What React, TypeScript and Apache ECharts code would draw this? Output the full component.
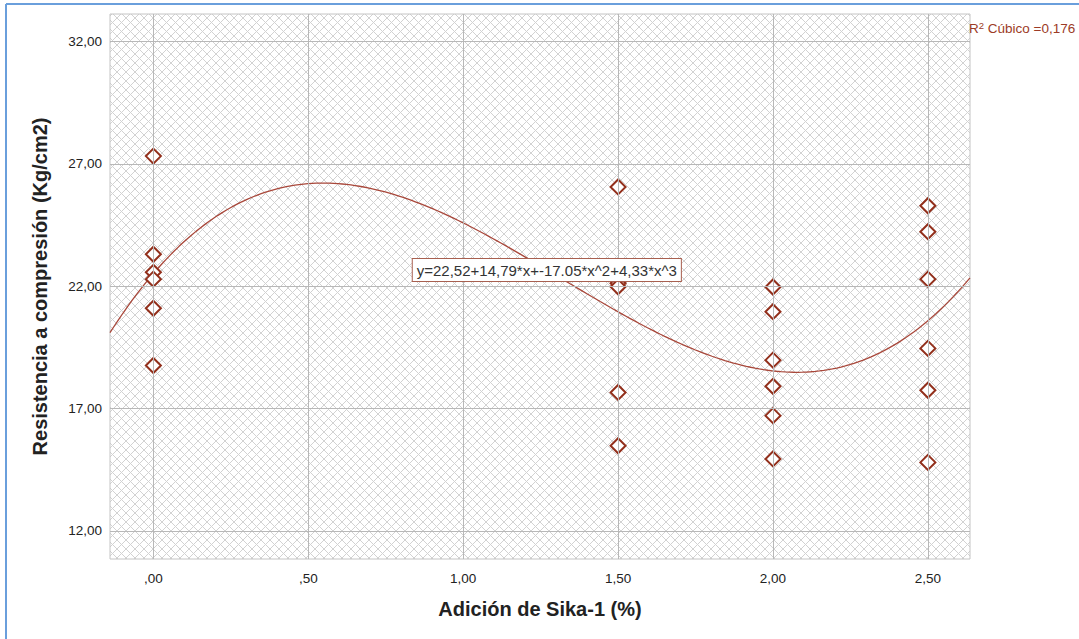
import React, { useEffect, useRef } from "react";
import * as echarts from "echarts";

// ---- data ----
const xTicks = [0, 0.5, 1.0, 1.5, 2.0, 2.5];
const yTicks = [12, 17, 22, 27, 32];
const xRange = [-0.14, 2.636];
const yRange = [10.85, 33.13];

const groupX = [0, 1.5, 2.0, 2.5];
const groupValues: number[][] = [
  [27.32, 23.31, 22.57, 22.29, 21.1, 18.76],
  [26.06, 22.12, 21.98, 17.66, 15.48],
  [21.97, 20.96, 18.98, 17.91, 16.71, 14.94],
  [25.29, 24.23, 22.29, 19.46, 17.75, 14.8],
];

// cubic fit coefficients shown in the chart: b0, b1, b2, b3
const fitCoefficients = [22.52, 14.79, -17.05, 4.33];
const fitLabel = "y=22,52+14,79*x+-17.05*x^2+4,33*x^3";
const r2Text = "0,176";

const xTitle = "Adición de Sika-1 (%)";
const yTitle = "Resistencia a compresión (Kg/cm2)";

function fmt(v: number): string {
  let s = v.toFixed(2).replace(".", ",");
  if (s.startsWith("0,")) s = s.slice(1);
  return s;
}

function makePattern(): HTMLCanvasElement {
  const c = document.createElement("canvas");
  const n = 9;
  c.width = n;
  c.height = n;
  const ctx = c.getContext("2d")!;
  ctx.fillStyle = "#ffffff";
  ctx.fillRect(0, 0, n, n);
  ctx.strokeStyle = "#d2d2d2";
  ctx.lineWidth = 1;
  for (const off of [-n, 0, n]) {
    ctx.beginPath();
    ctx.moveTo(off - 1, -1);
    ctx.lineTo(off + n + 1, n + 1);
    ctx.stroke();
    ctx.beginPath();
    ctx.moveTo(off + n + 1, -1);
    ctx.lineTo(off - 1, n + 1);
    ctx.stroke();
  }
  return c;
}

const FONT = "Liberation Sans, Arial, sans-serif";

export default function App() {
  const ref = useRef<HTMLDivElement>(null);

  useEffect(() => {
    if (!ref.current) return;
    const chart = echarts.init(ref.current, null, { renderer: "svg" });

    const points: number[][] = [];
    groupX.forEach((x, i) => groupValues[i].forEach((v) => points.push([x, v])));

    const curve: number[][] = [];
    const steps = 200;
    for (let i = 0; i <= steps; i++) {
      const x = xRange[0] + ((xRange[1] - xRange[0]) * i) / steps;
      const y = fitCoefficients.reduce((s, b, k) => s + b * Math.pow(x, k), 0);
      curve.push([x, y]);
    }

    const gridLineData: any[] = [
      ...xTicks.map((x) => ({ xAxis: x })),
      ...yTicks.map((y) => ({ yAxis: y })),
    ];

    const pattern = makePattern();

    chart.setOption({
      animation: false,
      backgroundColor: "#ffffff",
      grid: {
        left: 110,
        top: 14,
        width: 860,
        height: 545,
        show: true,
        backgroundColor: { image: pattern, repeat: "repeat" } as any,
        borderColor: "#c4c4c4",
        borderWidth: 1,
      },
      xAxis: {
        type: "value",
        min: xRange[0],
        max: xRange[1],
        axisLine: { show: false },
        axisTick: { show: false },
        splitLine: { show: false },
        axisLabel: {
          customValues: xTicks,
          formatter: (v: number) => fmt(v),
          color: "#222",
          fontSize: 13.5,
          fontFamily: FONT,
          margin: 12,
        },
        name: xTitle,
        nameLocation: "middle",
        nameGap: 40,
        nameTextStyle: { fontSize: 20, fontWeight: "bold", color: "#222", fontFamily: FONT },
      },
      yAxis: {
        type: "value",
        min: yRange[0],
        max: yRange[1],
        axisLine: { show: false },
        axisTick: { show: false },
        splitLine: { show: false },
        axisLabel: {
          customValues: yTicks,
          formatter: (v: number) => fmt(v),
          color: "#222",
          fontSize: 13.5,
          fontFamily: FONT,
          margin: 8,
        },
        name: yTitle,
        nameLocation: "middle",
        nameGap: 60,
        nameTextStyle: { fontSize: 20, fontWeight: "bold", color: "#222", fontFamily: FONT },
      },
      series: [
        {
          type: "line",
          data: [],
          z: 1,
          silent: true,
          markLine: {
            silent: true,
            symbol: ["none", "none"],
            label: { show: false },
            lineStyle: { color: "#b8b8b8", width: 1, type: "solid" },
            emphasis: { disabled: true },
            data: gridLineData,
          },
        },
        {
          type: "line",
          data: curve,
          z: 2,
          silent: true,
          showSymbol: false,
          symbol: "none",
          lineStyle: { color: "#a8473a", width: 1.3 },
          markPoint: {
            symbol: "rect",
            symbolSize: 0,
            silent: true,
            data: [{ coord: [1.27, 22.66], value: 0 }],
            label: {
              show: true,
              position: "inside",
              formatter: fitLabel,
              color: "#333",
              fontSize: 15,
              fontFamily: FONT,
              backgroundColor: "#ffffff",
              borderColor: "#a86050",
              borderWidth: 1,
              padding: [4, 4, 3, 4],
            },
          },
        },
        {
          type: "scatter",
          data: points,
          z: 3,
          symbol: "diamond",
          symbolSize: 15,
          itemStyle: { color: "#ffffff", borderColor: "#922f1b", borderWidth: 2, opacity: 1 },
        },
      ],
      graphic: [
        {
          type: "line",
          shape: { x1: 6, y1: 4, x2: 1079, y2: 4 },
          style: { stroke: "#6a9fdc", lineWidth: 2 },
        },
        {
          type: "line",
          shape: { x1: 6, y1: 4, x2: 6, y2: 639 },
          style: { stroke: "#6a9fdc", lineWidth: 2 },
        },
        {
          type: "text",
          x: 969,
          y: 20,
          style: {
            text: "{r|R}{s|2}{r| Cúbico =" + r2Text + "}",
            rich: {
              r: { fontSize: 13.5, fill: "#9c3b26", fontFamily: FONT, verticalAlign: "bottom" },
              s: { fontSize: 9.5, fill: "#9c3b26", fontFamily: FONT, verticalAlign: "top", padding: [0, 0, 5, 0] },
            },
          } as any,
        },
      ],
    });

    return () => chart.dispose();
  }, []);

  return (
    <div
      ref={ref}
      style={{ position: "fixed", left: 0, top: 0, width: 1079, height: 639, background: "#fff" }}
    />
  );
}
